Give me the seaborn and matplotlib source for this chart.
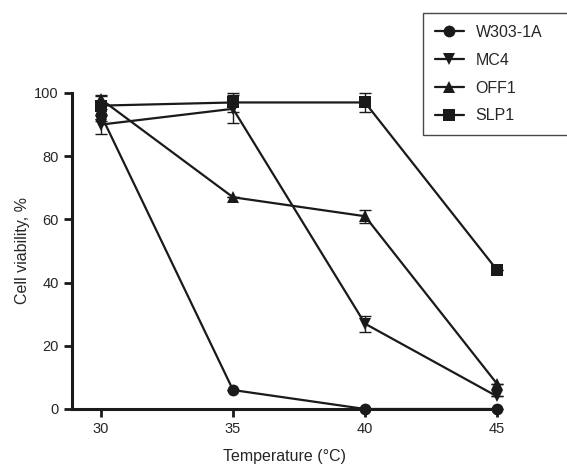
import pandas as pd
import matplotlib
matplotlib.use("Agg")
import matplotlib.pyplot as plt
import seaborn as sns
from matplotlib.lines import Line2D

# values
temperatures = [30, 35, 40, 45]
strains = ["W303-1A", "MC4", "OFF1", "SLP1"]
w303_1a = [93, 6, 0, 0]
mc4 = [90, 95, 27, 4]
off1 = [98, 67, 61, 8]
slp1 = [96, 97, 97, 44]
# standard deviations (error bars)
w303_1a_err = [2, 0, 0, 0]
mc4_err = [3, 4.5, 2.5, 0]
off1_err = [1.5, 0, 2, 0]
slp1_err = [3, 3, 3, 0]

series = {"W303-1A": (w303_1a, w303_1a_err), "MC4": (mc4, mc4_err),
          "OFF1": (off1, off1_err), "SLP1": (slp1, slp1_err)}

rows = []
for name in strains:
    vals, errs = series[name]
    for t, v, e in zip(temperatures, vals, errs):
        rows.append({"Temperature": t, "Viability": v, "err": e, "Strain": name})
df = pd.DataFrame(rows)

sns.set_theme(style="ticks")
plt.rcParams["font.family"] = ["Liberation Sans", "DejaVu Sans"]

fig = plt.figure(figsize=(5.67, 4.67), dpi=100)
ax = fig.add_axes([0.127, 0.1242, 0.7495, 0.6767])

markers = {"W303-1A": "o", "MC4": "v", "OFF1": "^", "SLP1": "s"}
palette = {s: "#1a1a1a" for s in strains}

for name in strains:
    sub = df[df["Strain"] == name]
    ax.errorbar(sub["Temperature"], sub["Viability"], yerr=sub["err"], fmt="none",
                ecolor="#1a1a1a", elinewidth=1.0, capsize=4.5, capthick=1.0, clip_on=False)

sns.lineplot(data=df, x="Temperature", y="Viability", hue="Strain", style="Strain",
             markers=markers, dashes=False, palette=palette, hue_order=strains,
             style_order=strains, linewidth=1.6, markersize=8.5, markeredgewidth=0,
             ax=ax, legend=False, clip_on=False)

ax.set_xlim(28.9, 45)
ax.set_ylim(0, 100)
ax.set_xticks(temperatures)
ax.set_yticks([0, 20, 40, 60, 80, 100])
ax.set_xlabel("Temperature (°C)", fontsize=11.5, labelpad=9)
ax.set_ylabel("Cell viability, %", fontsize=11.5, labelpad=3)
ax.tick_params(axis="both", labelsize=10.5, width=2, length=6, color="#1a1a1a")
for side in ["left", "bottom"]:
    ax.spines[side].set_linewidth(2.2)
    ax.spines[side].set_color("#1a1a1a")
sns.despine(ax=ax)

handles = [Line2D([0], [0], color="#1a1a1a", lw=1.6, marker=markers[s], markersize=8.5,
                  markeredgewidth=0) for s in strains]
leg = fig.legend(handles, strains, loc="upper left", bbox_to_anchor=(0.746, 0.5, 0.4, 0.472),
                 mode="expand", borderaxespad=0, fontsize=11.5, frameon=True, fancybox=False,
                 handlelength=1.8, handletextpad=0.75, labelspacing=0.8, borderpad=0.75)
leg.get_frame().set_edgecolor("#1a1a1a")
leg.get_frame().set_linewidth(1.0)

fig.savefig("out.png", dpi=100)
